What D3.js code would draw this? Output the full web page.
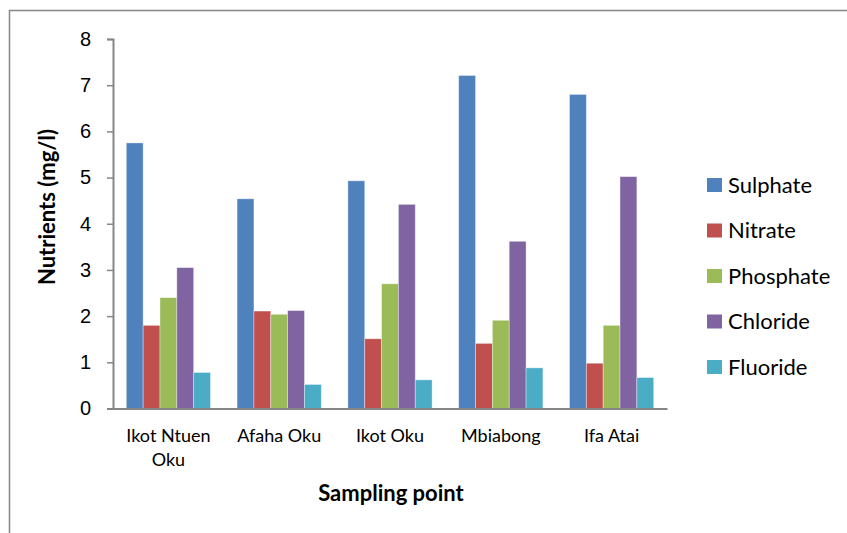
<!DOCTYPE html>
<html>
<head>
<meta charset="utf-8">
<script src="https://cdn.jsdelivr.net/npm/d3@7"></script>
<style>
  html, body { margin: 0; padding: 0; background: #fff; }
  svg { display: block; font-family: Lato, "Open Sans", sans-serif; }
</style>
</head>
<body>
<svg id="chart" width="847" height="533"></svg>
<script>
// Nutrient concentrations (mg/l) at each sampling point
const sites = ["Ikot Ntuen Oku", "Afaha Oku", "Ikot Oku", "Mbiabong", "Ifa Atai"];
const siteLines = [["Ikot Ntuen", "Oku"], ["Afaha Oku"], ["Ikot Oku"], ["Mbiabong"], ["Ifa Atai"]];
const nutrients = ["Sulphate", "Nitrate", "Phosphate", "Chloride", "Fluoride"];
const sulphate  = [5.75, 4.54, 4.93, 7.21, 6.80];
const nitrate   = [1.80, 2.11, 1.51, 1.41, 0.98];
const phosphate = [2.40, 2.04, 2.70, 1.91, 1.80];
const chloride  = [3.05, 2.12, 4.42, 3.62, 5.02];
const fluoride  = [0.78, 0.52, 0.62, 0.88, 0.67];
const yTicks = [0, 1, 2, 3, 4, 5, 6, 7, 8];
const colors = ["#4F81BD", "#C0504D", "#9BBB59", "#8064A2", "#4BACC6"];

const seriesValues = [sulphate, nitrate, phosphate, chloride, fluoride];
const rows = sites.map((s, i) => ({
  site: s,
  values: nutrients.map((n, k) => ({ key: n, value: seriesValues[k][i] }))
}));

const svg = d3.select("#chart");
const axisColor = "#868686";

// chart frame
svg.append("rect")
  .attr("x", 9.5).attr("y", 10.5)
  .attr("width", 900).attr("height", 600)
  .attr("fill", "none").attr("stroke", axisColor).attr("stroke-width", 1.5);

const plot = { left: 113, right: 667, top: 39, bottom: 408.5 };

const x0 = d3.scaleBand().domain(sites)
  .range([plot.left, plot.right])
  .paddingInner(0.24).paddingOuter(0.12);
const x1 = d3.scaleBand().domain(nutrients).range([0, x0.bandwidth()]);
const y = d3.scaleLinear().domain([0, 8]).range([plot.bottom, plot.top]);
const color = d3.scaleOrdinal().domain(nutrients).range(colors);

// bars
const groups = svg.append("g").selectAll("g").data(rows).join("g")
  .attr("transform", d => `translate(${x0(d.site)},0)`);
groups.selectAll("rect").data(d => d.values).join("rect")
  .attr("x", d => x1(d.key))
  .attr("y", d => y(d.value))
  .attr("width", x1.bandwidth())
  .attr("height", d => y(0) - y(d.value))
  .attr("fill", d => color(d.key))
  .attr("stroke", "rgba(255,255,255,0.45)")
  .attr("stroke-width", 0.8);

// y axis
const yAxis = svg.append("g")
  .attr("transform", `translate(${plot.left},0)`)
  .call(d3.axisLeft(y).tickValues(yTicks).tickSize(6).tickPadding(16).tickFormat(d3.format("d")));
yAxis.select(".domain").attr("stroke", axisColor).attr("stroke-width", 2);
yAxis.selectAll(".tick line").attr("stroke", axisColor).attr("stroke-width", 1.5);
yAxis.selectAll(".tick text").attr("fill", "#000").style("font-size", "20px");

// x axis baseline
const xAxis = svg.append("g")
  .attr("transform", `translate(0,${plot.bottom})`)
  .call(d3.axisBottom(x0).tickSize(0).tickFormat(""));
xAxis.select(".domain").attr("stroke", axisColor).attr("stroke-width", 2);

// category labels (wrapped)
svg.append("g").selectAll("text").data(sites).join("text")
  .attr("x", d => x0(d) + x0.bandwidth() / 2)
  .attr("y", 441.5)
  .attr("text-anchor", "middle")
  .style("font-size", "18px")
  .attr("fill", "#000")
  .each(function (d, i) {
    const t = d3.select(this);
    siteLines[i].forEach((line, j) => {
      t.append("tspan").attr("x", x0(d) + x0.bandwidth() / 2)
        .attr("dy", j === 0 ? 0 : 24.5).text(line);
    });
  });

// axis titles
svg.append("text")
  .attr("x", 391).attr("y", 501)
  .attr("text-anchor", "middle")
  .style("font-size", "22px").style("font-weight", "bold")
  .text("Sampling point");
svg.append("text")
  .attr("transform", "translate(55,207) rotate(-90)")
  .attr("text-anchor", "middle")
  .style("font-size", "22px").style("font-weight", "bold")
  .text("Nutrients (mg/l)");

// legend
const legend = svg.append("g").selectAll("g").data(nutrients).join("g")
  .attr("transform", (d, i) => `translate(707,${185 + i * 45.5})`);
legend.append("rect")
  .attr("x", 0).attr("y", -7)
  .attr("width", 15).attr("height", 14)
  .attr("fill", d => color(d));
legend.append("text")
  .attr("x", 21).attr("y", 7.5)
  .style("font-size", "22px")
  .attr("fill", "#000")
  .text(d => d);
</script>
</body>
</html>
